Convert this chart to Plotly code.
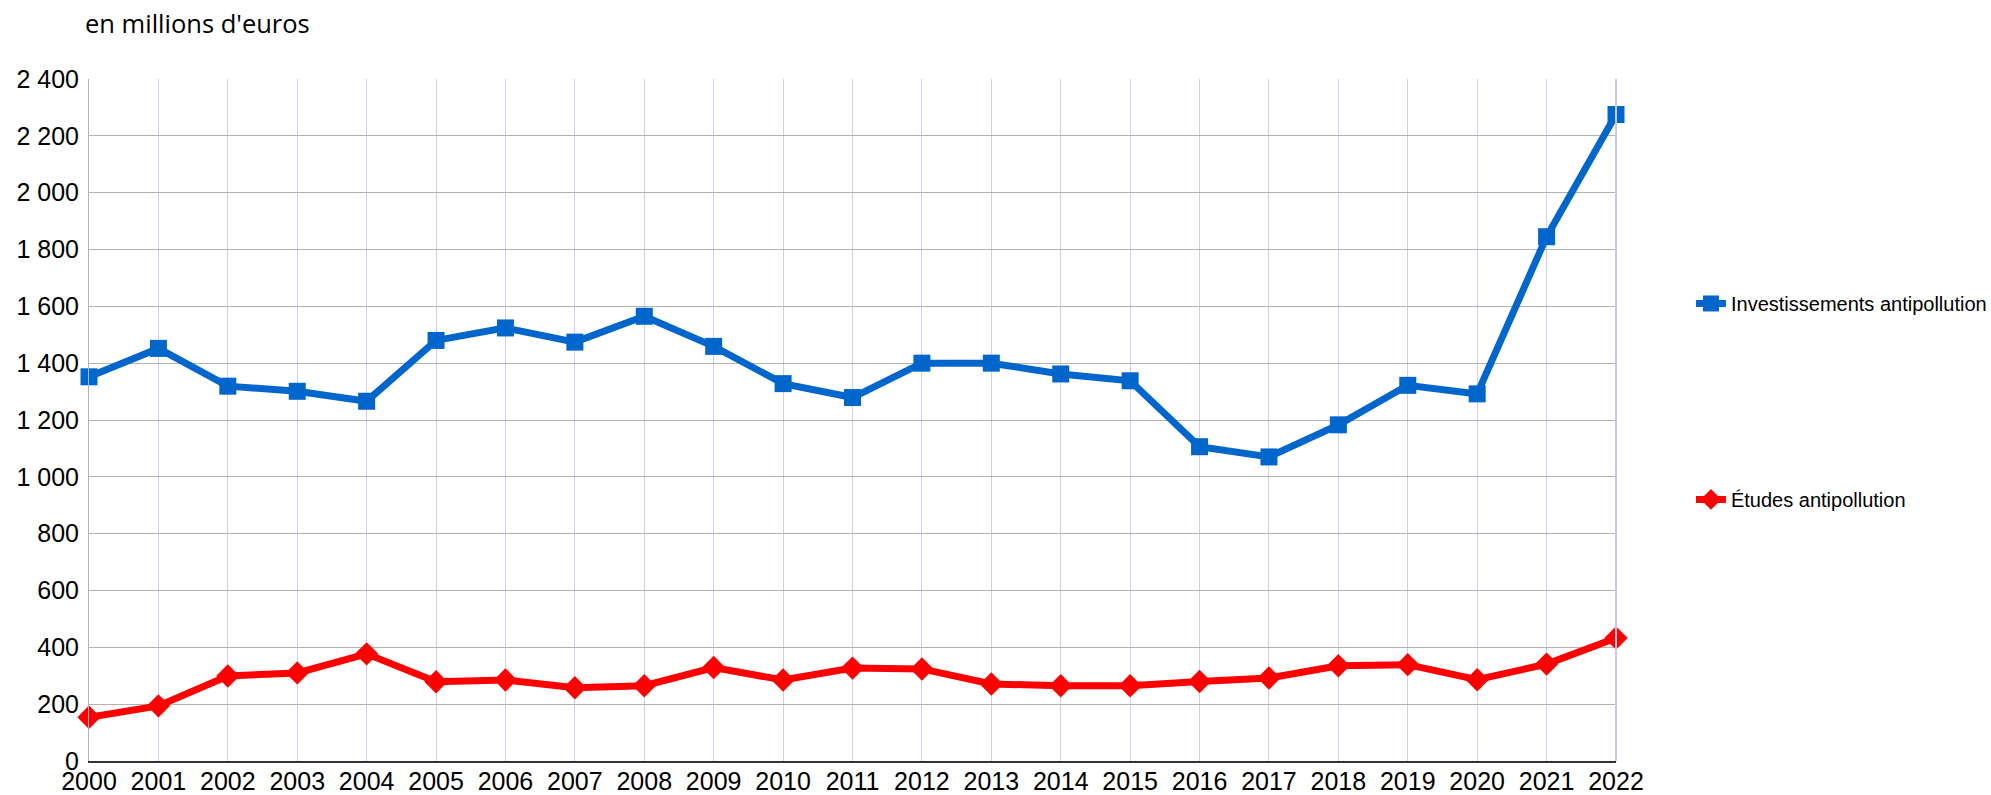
import plotly.graph_objects as go

years = list(range(2000, 2023))
investissements = [1352, 1452, 1319, 1301, 1266, 1480, 1524, 1474, 1565, 1459, 1328, 1279,
                   1400, 1400, 1362, 1338, 1106, 1070, 1183, 1322, 1292, 1845, 2275]
etudes = [154, 194, 299, 310, 377, 279, 285, 258, 265, 329, 285, 327,
          324, 271, 265, 265, 280, 292, 335, 339, 286, 341, 433]
y_ticks = list(range(0, 2401, 200))

fig = go.Figure()
fig.add_trace(go.Scatter(
    x=years, y=investissements, name="Investissements antipollution",
    mode="lines+markers", legendgroup="a",
    line=dict(color="#0066CC", width=7),
    marker=dict(symbol="square", size=17, color="#0066CC"),
    cliponaxis=False,
))
fig.add_trace(go.Scatter(
    x=years, y=etudes, name="Études antipollution",
    mode="lines+markers", legendgroup="b",
    line=dict(color="#FF0000", width=7),
    marker=dict(symbol="diamond", size=18, color="#FF0000"),
    cliponaxis=False,
))

# plot area at x 89..1616, y 79..761 of the 1991x795 page
fig.update_layout(
    width=1991, height=795,
    margin=dict(l=89, r=375, t=79, b=34, autoexpand=False),
    paper_bgcolor="white", plot_bgcolor="white",
    separators=". ",
    font=dict(family="Liberation Sans, Arial, sans-serif", color="#000000"),
    showlegend=True,
    legend=dict(
        xref="container", yref="container",
        x=0.8493, y=0.6428, xanchor="left", yanchor="top",
        font=dict(size=20, family="Liberation Sans, Arial, sans-serif"),
        tracegroupgap=167, bgcolor="rgba(0,0,0,0)",
    ),
    xaxis=dict(
        range=[2000, 2022], tickmode="array", tickvals=years,
        ticktext=[str(y) for y in years], automargin=False,
        showgrid=True, gridcolor="#CCCCFF", gridwidth=1,
        zeroline=False, showline=True, linecolor="#333333", linewidth=2,
        mirror=False, ticks="", tickfont=dict(size=25), ticklabelstandoff=-3,
    ),
    yaxis=dict(
        range=[0, 2400], tickmode="array", tickvals=y_ticks,
        tickformat=",d", automargin=False,
        showgrid=True, gridcolor="#B3B3B3", gridwidth=1,
        zeroline=False, showline=True, linecolor="#B3B3B3", linewidth=1,
        ticks="", tickfont=dict(size=25), ticklabelstandoff=4,
    ),
    annotations=[dict(
        text="en millions d'euros", xref="paper", yref="paper",
        x=-0.004, y=1.082, xanchor="left", yanchor="middle", showarrow=False,
        font=dict(family="Open Sans, sans-serif", size=25.5, color="#000000"),
    )],
    shapes=[dict(type="line", xref="paper", yref="paper", x0=1, x1=1, y0=0, y1=1,
                 line=dict(color="#C8C8EE", width=2))],
)

fig.write_html(
    "out.html",
    config={"displayModeBar": False},
    post_script="document.body.style.margin='0';document.body.style.overflow='hidden';",
)
